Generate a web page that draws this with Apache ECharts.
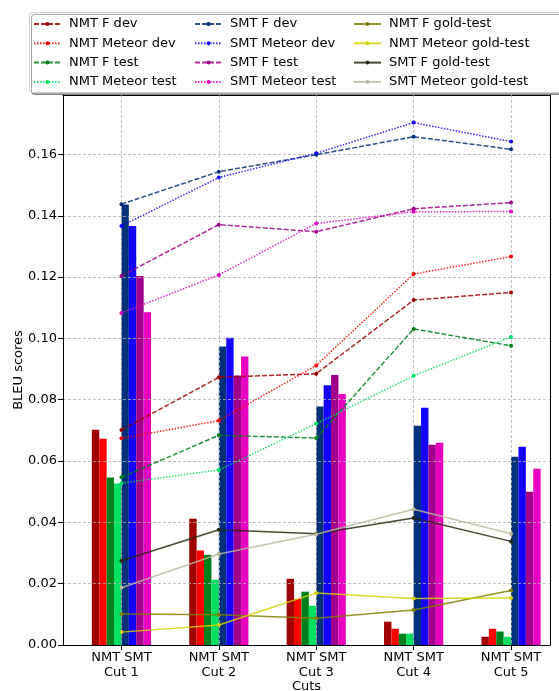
<!DOCTYPE html>
<html>
<head>
<meta charset="utf-8">
<script src="https://cdn.jsdelivr.net/npm/echarts@6/dist/echarts.min.js"></script>
<style>html,body{margin:0;padding:0;background:#fff;}#c{width:559px;height:691px;}</style>
</head>
<body>
<div id="c"></div>
<script>
// ---- data ----
const cutLabels = ['Cut 1', 'Cut 2', 'Cut 3', 'Cut 4', 'Cut 5'];
const groupLabel = 'NMT SMT';
const yTicks = [0, 0.02, 0.04, 0.06, 0.08, 0.10, 0.12, 0.14, 0.16];

// bars (per cut)
const barNames = ['NMT F dev', 'NMT Meteor dev', 'NMT F test', 'NMT Meteor test',
                  'SMT F dev', 'SMT Meteor dev', 'SMT F test', 'SMT Meteor test'];
const barNmtFDev      = [0.0702, 0.0412, 0.0216, 0.0076, 0.0027];
const barNmtMeteorDev = [0.0673, 0.0308, 0.0150, 0.0053, 0.0053];
const barNmtFTest     = [0.0546, 0.0294, 0.0174, 0.0037, 0.0044];
const barNmtMeteorTest= [0.0527, 0.0213, 0.0128, 0.0037, 0.0027];
const barSmtFDev      = [0.1437, 0.0974, 0.0778, 0.0715, 0.0614];
const barSmtMeteorDev = [0.1367, 0.1002, 0.0847, 0.0774, 0.0647];
const barSmtFTest     = [0.1204, 0.0879, 0.0881, 0.0653, 0.0500];
const barSmtMeteorTest= [0.1085, 0.0941, 0.0819, 0.0660, 0.0575];

// lines
const nmtFDev          = [0.0701, 0.0873, 0.0885, 0.1125, 0.1150];
const nmtMeteorDev     = [0.0674, 0.0732, 0.0912, 0.1210, 0.1267];
const nmtFTest         = [0.0547, 0.0684, 0.0675, 0.1031, 0.0976];
const nmtMeteorTest    = [0.0528, 0.0571, 0.0722, 0.0878, 0.1005];
const smtFDev          = [0.1438, 0.1544, 0.1599, 0.1658, 0.1617];
const smtMeteorDev     = [0.1367, 0.1525, 0.1604, 0.1704, 0.1642];
const smtFTest         = [0.1204, 0.1371, 0.1348, 0.1423, 0.1443];
const smtMeteorTest    = [0.1083, 0.1207, 0.1375, 0.1413, 0.1414];
const nmtFGold         = [0.0101, 0.0099, 0.0087, 0.0114, 0.0178];
const nmtMeteorGold    = [0.0042, 0.0065, 0.0170, 0.0152, 0.0153];
const smtFGold         = [0.0275, 0.0376, 0.0363, 0.0414, 0.0338];
const smtMeteorGold    = [0.0187, 0.0297, 0.0361, 0.0443, 0.0363];

// ---- styling ----
const C = {
  darkred: '#a00000', red: '#ff0000', green: '#00801a', lgreen: '#00e060',
  navy: '#00307a', blue: '#1400ff', purple: '#a0008c', magenta: '#e800c0',
  olive: '#808000', yellow: '#d4d400', dark: '#282814', beige: '#b8b8a0'
};
const barColors = [C.darkred, C.red, C.green, C.lgreen, C.navy, C.blue, C.purple, C.magenta];
const barArrays = [barNmtFDev, barNmtMeteorDev, barNmtFTest, barNmtMeteorTest,
                   barSmtFDev, barSmtMeteorDev, barSmtFTest, barSmtMeteorTest];
const barW = 0.076;

const lineDefs = [
  ['NMT F dev', nmtFDev, C.darkred, [5, 2]],
  ['NMT Meteor dev', nmtMeteorDev, C.red, [1.5, 1.5]],
  ['NMT F test', nmtFTest, C.green, [5, 2]],
  ['NMT Meteor test', nmtMeteorTest, C.lgreen, [1.5, 1.5]],
  ['SMT F dev', smtFDev, C.navy, [5, 2]],
  ['SMT Meteor dev', smtMeteorDev, C.blue, [1.5, 1.5]],
  ['SMT F test', smtFTest, C.purple, [5, 2]],
  ['SMT Meteor test', smtMeteorTest, C.magenta, [1.5, 1.5]],
  ['NMT F gold-test', nmtFGold, C.olive, 'solid'],
  ['NMT Meteor gold-test', nmtMeteorGold, C.yellow, 'solid'],
  ['SMT F gold-test', smtFGold, C.dark, 'solid'],
  ['SMT Meteor gold-test', smtMeteorGold, C.beige, 'solid']
];

const FONT = 'DejaVu Sans';
const series = [];
barArrays.forEach((arr, k) => {
  series.push({
    type: 'custom',
    name: barNames[k] + ' (bar)',
    z: 1,
    encode: { x: 0, y: 1 },
    data: arr.map((v, i) => [i, v]),
    renderItem: function (params, api) {
      const x = api.value(0), v = api.value(1);
      const top = api.coord([x, v]);
      const base = api.coord([x, 0]);
      const w = api.size([barW, 0])[0];
      return {
        type: 'rect',
        shape: { x: top[0] + (k - 4) * w, y: top[1], width: w, height: base[1] - top[1] },
        style: { fill: barColors[k] }
      };
    }
  });
});
lineDefs.forEach(([name, arr, color, dash]) => {
  series.push({
    type: 'line',
    name: name,
    z: 5,
    data: arr.map((v, i) => [i, v]),
    symbol: 'circle',
    symbolSize: 4,
    showSymbol: true,
    itemStyle: { color: color },
    lineStyle: { color: color, width: 1.5, type: dash, opacity: 0.85 },
    emphasis: { disabled: true },
    animation: false
  });
});

const legendCommon = {
  orient: 'vertical',
  top: 12,
  itemWidth: 27,
  itemHeight: 5,
  itemGap: 5.3,
  textStyle: { fontFamily: FONT, fontSize: 13, color: '#000', lineHeight: 14, padding: [0, 0, 0, 3] },
  selectedMode: false,
  z: 10
};
const legends = [
  Object.assign({}, legendCommon, { left: 28, data: lineDefs.slice(0, 4).map(d => d[0]) }),
  Object.assign({}, legendCommon, { left: 189, data: lineDefs.slice(4, 8).map(d => d[0]) }),
  Object.assign({}, legendCommon, { left: 348, data: lineDefs.slice(8, 12).map(d => d[0]) })
];

const gridLine = { show: true, lineStyle: { color: '#b0b0b0', width: 0.8, type: [3, 2] } };
const ymax = 0.1794;
const cutIdx = cutLabels.map((_, i) => i);

const option = {
  animation: false,
  backgroundColor: '#fff',
  grid: { left: 63, right: 9, top: 95, bottom: 46, containLabel: false, outerBoundsMode: 'none' },
  legend: legends,
  graphic: [{
    type: 'rect',
    z: 5,
    shape: { x: 29.5, y: 12.5, width: 540, height: 80, r: 3 },
    style: { fill: '#fff', stroke: '#cccccc', lineWidth: 1,
             shadowColor: 'rgba(0,0,0,0.35)', shadowOffsetX: 2, shadowOffsetY: 2, shadowBlur: 0 }
  }],
  xAxis: [{
    type: 'value', min: -0.6, max: 4.4, z: 3,
    name: 'Cuts', nameLocation: 'middle', nameGap: 35, nameMoveOverlap: false,
    nameTextStyle: { fontFamily: FONT, fontSize: 13, color: '#000' },
    axisLine: { show: true, onZero: false, lineStyle: { color: '#000', width: 1 } },
    axisTick: { show: true, inside: false, length: 5, customValues: cutIdx, lineStyle: { color: '#000' } },
    axisLabel: { show: true, customValues: cutIdx, margin: 5, fontFamily: FONT, fontSize: 13, color: '#000', lineHeight: 15,
                 formatter: v => groupLabel + '\n' + cutLabels[Math.round(v)] },
    splitLine: gridLine
  }, {
    type: 'value', min: -0.6, max: 4.4, position: 'top',
    axisLine: { show: true, onZero: false, lineStyle: { color: '#000', width: 1 } },
    axisTick: { show: false }, axisLabel: { show: false }, splitLine: { show: false }
  }],
  yAxis: [{
    type: 'value', min: 0, max: ymax, interval: 0.02, z: 3,
    name: 'BLEU scores', nameLocation: 'middle', nameGap: 38, nameMoveOverlap: false,
    nameTextStyle: { fontFamily: FONT, fontSize: 13, color: '#000' },
    axisLine: { show: true, onZero: false, lineStyle: { color: '#000', width: 1 } },
    axisTick: { show: true, inside: false, length: 5, customValues: yTicks, lineStyle: { color: '#000' } },
    axisLabel: { fontFamily: FONT, fontSize: 13, color: '#000', margin: 6, customValues: yTicks,
                 formatter: v => v.toFixed(2) },
    splitLine: gridLine
  }, {
    type: 'value', min: 0, max: ymax, position: 'right',
    axisLine: { show: true, onZero: false, lineStyle: { color: '#000', width: 1 } },
    axisTick: { show: false }, axisLabel: { show: false }, splitLine: { show: false }
  }],
  series: series
};

const chart = echarts.init(document.getElementById('c'), null, { renderer: 'canvas' });
chart.setOption(option);
</script>
</body>
</html>
